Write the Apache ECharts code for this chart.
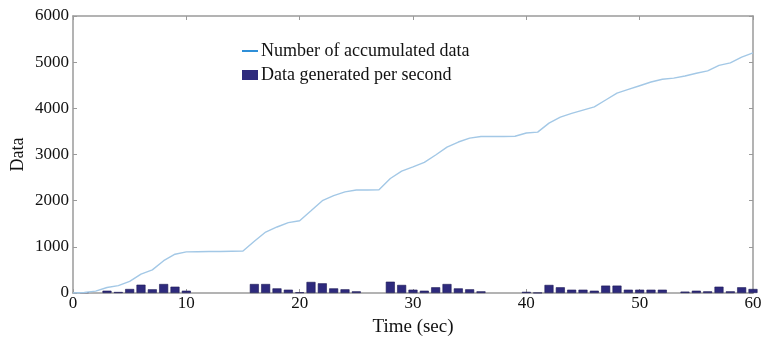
<!DOCTYPE html>
<html>
<head>
<meta charset="utf-8">
<script src="https://cdn.jsdelivr.net/npm/echarts@6/dist/echarts.min.js"></script>
<style>
    html, body { margin: 0; padding: 0; background: #fff; }
    #chart { width: 765px; height: 342px; }
</style>
</head>
<body>
<div id="chart"></div>
<script>
// 时间 (秒)
var seconds = [0, 1, 2, 3, 4, 5, 6, 7, 8, 9, 10, 11, 12, 13, 14, 15, 16, 17, 18, 19, 20,
    21, 22, 23, 24, 25, 26, 27, 28, 29, 30, 31, 32, 33, 34, 35, 36, 37, 38, 39, 40,
    41, 42, 43, 44, 45, 46, 47, 48, 49, 50, 51, 52, 53, 54, 55, 56, 57, 58, 59, 60];
// 累计数据量
var accumulated = [0, 10, 40, 120, 160, 250, 410, 500, 700, 840, 890, 895, 900, 900, 905, 910, 1120, 1320, 1430, 1525, 1565,
    1780, 2000, 2110, 2190, 2230, 2230, 2235, 2480, 2640, 2730, 2830, 2990, 3160, 3270, 3355, 3390, 3390, 3390, 3395, 3465,
    3485, 3680, 3810, 3890, 3960, 4030, 4180, 4330, 4410, 4490, 4570, 4630, 4655, 4700, 4760, 4810, 4930, 4985, 5110, 5200];
// 每秒生成数据量
var perSecond = [0, 15, 0, 50, 22, 87, 180, 80, 195, 137, 50, 0, 0, 0, 0, 0, 195, 195, 100, 72, 15,
    240, 210, 100, 80, 36, 0, 0, 245, 175, 72, 50, 124, 195, 100, 80, 36, 0, 0, 0, 25,
    5, 175, 124, 72, 72, 50, 160, 160, 72, 72, 72, 72, 0, 30, 50, 36, 137, 36, 124, 87];
var xTicks = [0, 10, 20, 30, 40, 50, 60];
var yTicks = [0, 1000, 2000, 3000, 4000, 5000, 6000];

var lineName = 'Number of accumulated data';
var barName = 'Data generated per second';

// 组装 [x, y]，可跳过 0 值
function pairs(xs, ys, skipZero) {
    var arr = [];
    for (var i = 0; i < xs.length; i++) {
        if (skipZero && ys[i] === 0) {
            continue;
        }
        arr.push([xs[i], ys[i]]);
    }
    return arr;
}

var font = 'Liberation Serif';
var boxColor = '#9a9a9a';

// 坐标轴基础配置
function xAxisCfg(pos, showLabel) {
    return {
        type: 'value',
        position: pos,
        min: xTicks[0],
        max: xTicks[xTicks.length - 1],
        interval: 10,
        axisLine: { show: true, onZero: false, lineStyle: { color: boxColor, width: 1.5 } },
        axisTick: { show: true, inside: true, length: 4, lineStyle: { color: boxColor } },
        axisLabel: { show: showLabel, color: '#111', fontFamily: font, fontSize: 17, margin: 2 },
        splitLine: { show: false }
    };
}
function yAxisCfg(pos, showLabel) {
    return {
        type: 'value',
        position: pos,
        min: yTicks[0],
        max: yTicks[yTicks.length - 1],
        interval: 1000,
        axisLine: { show: true, onZero: false, lineStyle: { color: boxColor, width: 1.5 } },
        axisTick: { show: true, inside: true, length: 4, lineStyle: { color: boxColor } },
        axisLabel: {
            show: showLabel, color: '#111', fontFamily: font, fontSize: 17, margin: 4,
            formatter: function (v) { return String(v); }
        },
        splitLine: { show: false }
    };
}

var bottomX = xAxisCfg('bottom', true);
bottomX.name = 'Time (sec)';
bottomX.nameLocation = 'middle';
bottomX.nameGap = 25;
bottomX.nameTextStyle = { color: '#111', fontFamily: font, fontSize: 19 };

var leftY = yAxisCfg('left', true);
leftY.name = 'Data';
leftY.nameLocation = 'middle';
leftY.nameGap = 46;
leftY.nameMoveOverlap = false;
leftY.nameTextStyle = { color: '#111', fontFamily: font, fontSize: 18 };

var chart = echarts.init(document.getElementById('chart'));
chart.setOption({
    backgroundColor: '#fff',
    animation: false,
    grid: { left: 73, right: 12, top: 16, bottom: 49, containLabel: false, outerBoundsMode: 'none' },
    legend: {
        orient: 'vertical',
        left: 236,
        top: 37,
        itemGap: 6,
        itemWidth: 16,
        itemHeight: 10,
        textStyle: { color: '#111', fontFamily: font, fontSize: 18, padding: [0, 0, 0, -2] },
        data: [
            { name: lineName, itemStyle: { opacity: 0 }, lineStyle: { color: '#2f8fd8', width: 2 } },
            { name: barName, icon: 'rect', itemStyle: { color: '#2e2a7d', borderWidth: 0 } }
        ]
    },
    xAxis: [bottomX, xAxisCfg('top', false)],
    yAxis: [leftY, yAxisCfg('right', false)],
    series: [
        {
            name: barName,
            type: 'bar',
            barWidth: 9,
            itemStyle: { color: '#2e2a7d', borderColor: '#1c1955', borderWidth: 0.6 },
            data: pairs(seconds, perSecond, true)
        },
        {
            name: lineName,
            type: 'line',
            symbol: 'none',
            lineStyle: { color: '#a3c8e6', width: 1.4 },
            itemStyle: { color: '#a3c8e6' },
            data: pairs(seconds, accumulated, false)
        }
    ]
});
</script>
</body>
</html>
